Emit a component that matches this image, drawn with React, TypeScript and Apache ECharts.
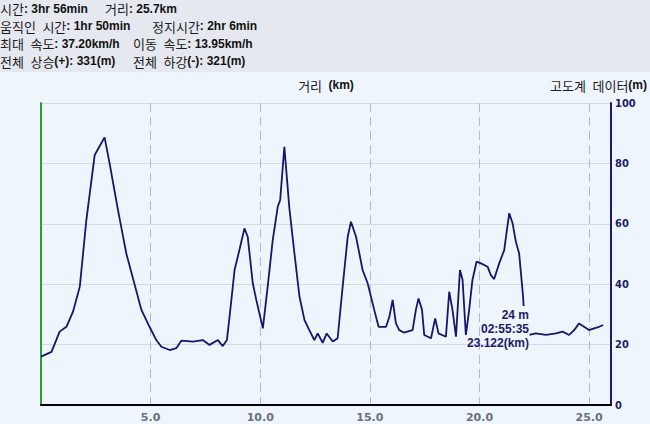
import { useEffect, useRef } from "react";
import * as echarts from "echarts";

const distKm = [
  0, 0.48, 0.85, 1.16, 1.46, 1.77, 2.07, 2.45, 2.9, 3.13, 3.51, 3.89, 4.58, 4.95,
  5.26, 5.49, 5.87, 6.17, 6.4, 6.93, 7.38, 7.69, 8.07, 8.29, 8.48, 8.6, 8.83, 9.05,
  9.28, 9.43, 9.66, 9.82, 10.12, 10.34, 10.57, 10.8, 10.91, 11.1, 11.33, 11.56, 11.79,
  12.02, 12.24, 12.47, 12.62, 12.85, 13.03, 13.31, 13.53, 13.76, 13.99, 14.14, 14.37,
  14.67, 14.9, 15.2, 15.4, 15.74, 15.89, 16.04, 16.19, 16.34, 16.55, 16.95, 17.1, 17.22,
  17.38, 17.48, 17.79, 17.98, 18.13, 18.47, 18.62, 18.77, 18.93, 19.11, 19.23, 19.38,
  19.53, 19.68, 19.87, 20.07, 20.37, 20.52, 20.67, 20.9, 21.13, 21.23, 21.36, 21.51,
  21.66, 21.81, 21.99, 22.08, 22.27, 22.57, 23.03, 23.49, 23.79, 24.09, 24.32, 24.54,
  24.77, 25.0, 25.23, 25.46, 25.64,
];
const elevM = [
  16, 17.6, 24.3, 25.9, 30.9, 39.2, 61.3, 82.8, 88.6, 80, 64.6, 50.2, 31.5, 25.9,
  21.5, 19.3, 18.2, 18.8, 21.3, 21, 21.5, 19.9, 21.5, 19.5, 21.5, 29.2, 44.7, 51.3,
  58.5, 55.7, 40.3, 34.8, 25.4, 39.2, 54.6, 65.7, 67.9, 85.5, 65.1, 50.2, 35.9,
  28.1, 24.8, 21.5, 23.7, 20.6, 23.7, 21, 22.1, 39.2, 55.7, 60.7, 55.7,
  44.7, 40.3, 31.5, 25.9, 25.9, 29.2, 34.8, 27, 24.8, 24, 24.8, 31.5, 35.3,
  31.5, 23.2, 22.1, 28.7, 23.7, 22.6, 37.5, 31.5, 22.6, 44.7, 41.4, 23.2,
  31.5, 41.4, 47.5, 46.9, 45.8, 43, 41.7, 46.9, 51.3, 56.8, 63.5, 60.2,
  54.1, 50.2, 35.9, 24.8, 23.2, 23.7, 23.2, 23.7, 24.3, 23.2, 24.8, 27,
  25.9, 24.8, 25.4, 25.9, 26.5,
];

const xMax = 26;
const xInterval = 5;
const yMax = 100;
const yInterval = 20;

const headerLines: [string, string, string, string][] = [
  ["시간", ": 3hr 56min", "거리", ": 25.7km"],
  ["움직인 시간", ": 1hr 50min", "정지시간", ": 2hr 6min"],
  ["최대 속도", ": 37.20km/h", "이동 속도", ": 13.95km/h"],
  ["전체 상승", "(+): 331(m)", "전체 하강", "(-): 321(m)"],
];
const headerCol2X = [105, 152, 133, 133];

const xTitle = ["거리 ", "(km)"];
const yTitle = ["고도계 데이터", "(m)"];
const cursorText = ["24 m", "02:55:35", "23.122(km)"];

const PLOT_BG = "#eff5fd";
const HEADER_BG = "#e5e8ee";
const NAVY = "#1b1b6a";
const KFONT = "'Noto Sans CJK KR', 'Noto Sans', sans-serif";
const BFONT = "'Liberation Sans', Arial, sans-serif";

const rich = {
  k: { fontFamily: KFONT, fontSize: 13, lineHeight: 15, fill: "#1a1a1a", color: "#1a1a1a" },
  b: { fontFamily: BFONT, fontSize: 12, lineHeight: 15, fontWeight: "bold", fill: "#111", color: "#111" },
};
const wide = (s: string) => s.replace(/ /g, "\u2002");

export default function App() {
  const ref = useRef<HTMLDivElement>(null);
  useEffect(() => {
    if (!ref.current) return;
    const chart = echarts.init(ref.current, undefined, { renderer: "svg" });

    const graphic: any[] = [
      { type: "rect", shape: { x: 0, y: 0, width: 650, height: 72 }, style: { fill: HEADER_BG }, z: 0 },
    ];
    headerLines.forEach((ln, i) => {
      const y = 8.5 + i * 17.5;
      graphic.push({
        type: "text", x: 0, y, z: 1,
        style: { text: `{k|${wide(ln[0])}}{b|${ln[1]}}`, rich, verticalAlign: "middle", align: "left" },
      });
      graphic.push({
        type: "text", x: headerCol2X[i], y, z: 1,
        style: { text: `{k|${wide(ln[2])}}{b|${ln[3]}}`, rich, verticalAlign: "middle", align: "left" },
      });
    });
    graphic.push({
      type: "text", x: 326, y: 85, z: 1,
      style: { text: `{k|${wide(xTitle[0])}}{b|${xTitle[1]}}`, rich, verticalAlign: "middle", align: "center" },
    });
    graphic.push({
      type: "text", x: 647, y: 85, z: 1,
      style: { text: `{k|${wide(yTitle[0])}}{b|${yTitle[1]}}`, rich, verticalAlign: "middle", align: "right" },
    });
    // cover behind the cursor readout
    graphic.push({
      type: "rect", z: 100,
      shape: { x: 512, y: 306, width: 17.5, height: 44 },
      style: { fill: PLOT_BG },
    });
    graphic.push({
      type: "text", x: 529, y: 308, z: 101,
      style: {
        text: cursorText.join("\n"),
        fontFamily: BFONT, fontSize: 12, fontWeight: "bold",
        fill: NAVY, align: "right", verticalAlign: "top", lineHeight: 14,
      },
    });

    chart.setOption({
      animation: false,
      backgroundColor: PLOT_BG,
      grid: { left: 41, right: 39, top: 103, bottom: 19, containLabel: false },
      xAxis: {
        type: "value", min: 0, max: xMax, interval: xInterval,
        axisLine: { show: true, onZero: false, lineStyle: { color: "#000", width: 2 } },
        axisTick: { show: false },
        axisLabel: {
          color: "#6a6f7a", fontWeight: "bold", fontSize: 11,
          fontFamily: "'DejaVu Sans', sans-serif", margin: 7,
          formatter: (v: number) => (v === 0 || v > 25.5 ? "" : v.toFixed(1)),
        },
        splitLine: { show: true, lineStyle: { color: "#b6bac4", type: [9, 5], width: 1 } },
      },
      yAxis: [
        {
          type: "value", position: "left", min: 0, max: yMax, interval: yInterval,
          axisLine: { show: true, lineStyle: { color: "#2e9a3a", width: 2 } },
          axisTick: { show: false }, axisLabel: { show: false },
          splitLine: { show: true, lineStyle: { color: "#d5d9e0", width: 1 } },
        },
        {
          type: "value", position: "right", min: 0, max: yMax, interval: yInterval,
          axisLine: { show: true, lineStyle: { color: NAVY, width: 2 } },
          axisTick: { show: false },
          axisLabel: {
            color: NAVY, fontWeight: "bold", fontSize: 11, margin: 4,
            fontFamily: "'DejaVu Sans Condensed', 'Liberation Sans Narrow', 'Liberation Sans', sans-serif",
          },
          splitLine: { show: false },
        },
      ],
      series: [
        {
          type: "line", yAxisIndex: 1,
          data: distKm.map((d, i) => [d, elevM[i]]),
          symbol: "none", showSymbol: false,
          lineStyle: { color: "#16166b", width: 1.8 },
          z: 3,
        },
      ],
      graphic,
    });
    return () => chart.dispose();
  }, []);
  return <div ref={ref} style={{ position: "absolute", left: 0, top: 0, width: 650, height: 424 }} />;
}
